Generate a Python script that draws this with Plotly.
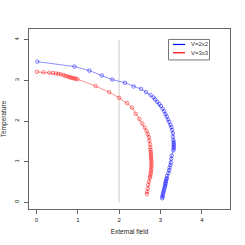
import plotly.graph_objects as go

# V=2x2 (blue)
field_2x2 = [0.02, 0.92, 1.28, 1.58, 1.83, 2.14, 2.35, 2.53, 2.65, 2.76, 2.83, 2.87, 2.92, 2.97,
             3.01, 3.05, 3.09, 3.12, 3.15, 3.18, 3.21, 3.24, 3.26, 3.28, 3.30, 3.30, 3.31, 3.32,
             3.32, 3.32, 3.32, 3.32, 3.31, 3.27, 3.26, 3.25, 3.24, 3.22, 3.21, 3.19, 3.16, 3.15,
             3.14, 3.13, 3.12, 3.12, 3.11, 3.10, 3.09, 3.08, 3.07, 3.06, 3.05, 3.05, 3.04]
temp_2x2 = [3.46, 3.34, 3.24, 3.12, 3.02, 2.94, 2.85, 2.79, 2.71, 2.64, 2.58, 2.53, 2.47, 2.42,
            2.37, 2.30, 2.24, 2.17, 2.11, 2.04, 1.98, 1.91, 1.85, 1.78, 1.70, 1.61, 1.53, 1.48,
            1.44, 1.40, 1.36, 1.32, 1.28, 1.15, 1.07, 0.98, 0.92, 0.85, 0.79, 0.72, 0.65, 0.59,
            0.56, 0.52, 0.48, 0.45, 0.41, 0.37, 0.33, 0.29, 0.25, 0.21, 0.17, 0.13, 0.10]

# V=3x3 (red)
field_3x3 = [0.01, 0.17, 0.31, 0.40, 0.47, 0.53, 0.59, 0.65, 0.70, 0.75, 0.79, 0.83, 0.87, 0.91,
             0.95, 0.99, 1.43, 1.76, 2.00, 2.19, 2.31, 2.40, 2.49, 2.56, 2.62, 2.66, 2.69, 2.72,
             2.73, 2.75, 2.75, 2.76, 2.76, 2.77, 2.77, 2.77, 2.78, 2.78, 2.78, 2.78, 2.78, 2.77,
             2.77, 2.76, 2.75, 2.74, 2.72, 2.70, 2.69, 2.68, 2.67]
temp_3x3 = [3.21, 3.20, 3.19, 3.18, 3.17, 3.16, 3.15, 3.13, 3.11, 3.10, 3.08, 3.07, 3.06, 3.05,
            3.04, 3.03, 2.86, 2.71, 2.57, 2.44, 2.33, 2.18, 2.05, 1.94, 1.84, 1.76, 1.68, 1.60,
            1.52, 1.43, 1.35, 1.29, 1.24, 1.19, 1.14, 1.09, 1.04, 0.99, 0.94, 0.89, 0.84, 0.79,
            0.74, 0.69, 0.64, 0.60, 0.51, 0.43, 0.34, 0.26, 0.20]

series_names = ["V=2x2", "V=3x3"]
x_ticks = [0, 1, 2, 3, 4]
y_ticks = [0, 1, 2, 3, 4]
ref_field = 2

FONT = "Liberation Sans"
BLUE = "rgba(0,0,255,0.55)"
RED = "rgba(255,0,0,0.55)"

fig = go.Figure()
for xs, ys, col in [(field_2x2, temp_2x2, BLUE), (field_3x3, temp_3x3, RED)]:
    fig.add_trace(go.Scatter(
        x=xs, y=ys, mode="lines+markers",
        line=dict(color=col, width=0.8),
        marker=dict(symbol="circle-open", size=3.5, color=col, line=dict(width=0.9, color=col)),
        showlegend=False, hoverinfo="skip"))

# reference vertical line at field = 2
fig.add_shape(type="line", xref="x", yref="y", x0=ref_field, x1=ref_field, y0=0, y1=4,
              line=dict(color="#dddddd", width=1.5), layer="below")

# manual legend (R style); coordinates in page pixels
L, R_, T, B = 29, 230, 29, 209.3
def px(x): return (x - L) / (R_ - L)
def py(y): return (B - y) / (B - T)
fig.add_shape(type="rect", xref="paper", yref="paper",
              x0=px(168.5), x1=px(209.5), y0=py(60), y1=py(39.5),
              line=dict(color="#777777", width=1), fillcolor="white")
for i, (name, col) in enumerate(zip(series_names, ["blue", "red"])):
    yy = 44.5 + i * 8.3
    fig.add_shape(type="line", xref="paper", yref="paper",
                  x0=px(173), x1=px(185), y0=py(yy), y1=py(yy),
                  line=dict(color=col, width=1.2))
    fig.add_annotation(xref="paper", yref="paper", x=px(189), y=py(yy), text=name,
                       showarrow=False, xanchor="left", yanchor="middle",
                       font=dict(family=FONT, size=6, color="#333333"))

axis_common = dict(showgrid=False, zeroline=False, showline=True, mirror=True, automargin=False,
                   linecolor="#666666", linewidth=1, ticks="outside", ticklen=4,
                   tickcolor="#666666", tickfont=dict(family=FONT, size=6, color="#222222"))
fig.update_layout(
    width=245, height=245,
    margin=dict(l=L, r=245 - R_, t=T, b=245 - B),
    paper_bgcolor="white", plot_bgcolor="white",
    hovermode=False, dragmode=False,
    xaxis=dict(range=[-0.18, 4.68], tickvals=x_ticks, ticklabelstandoff=1, fixedrange=True,
               title=dict(text="External field", font=dict(family=FONT, size=6.5, color="#222222"),
                          standoff=7),
               **axis_common),
    yaxis=dict(range=[-0.164, 4.264], tickvals=y_ticks, tickangle=-90, ticklabelstandoff=3,
               fixedrange=True,
               title=dict(text="Temperature", font=dict(family=FONT, size=6.5, color="#222222"),
                          standoff=8),
               **axis_common),
)
fig.write_html("out.html", config={"displayModeBar": False, "staticPlot": True},
               post_script="document.body.style.margin='0';document.body.style.overflow='hidden';")
